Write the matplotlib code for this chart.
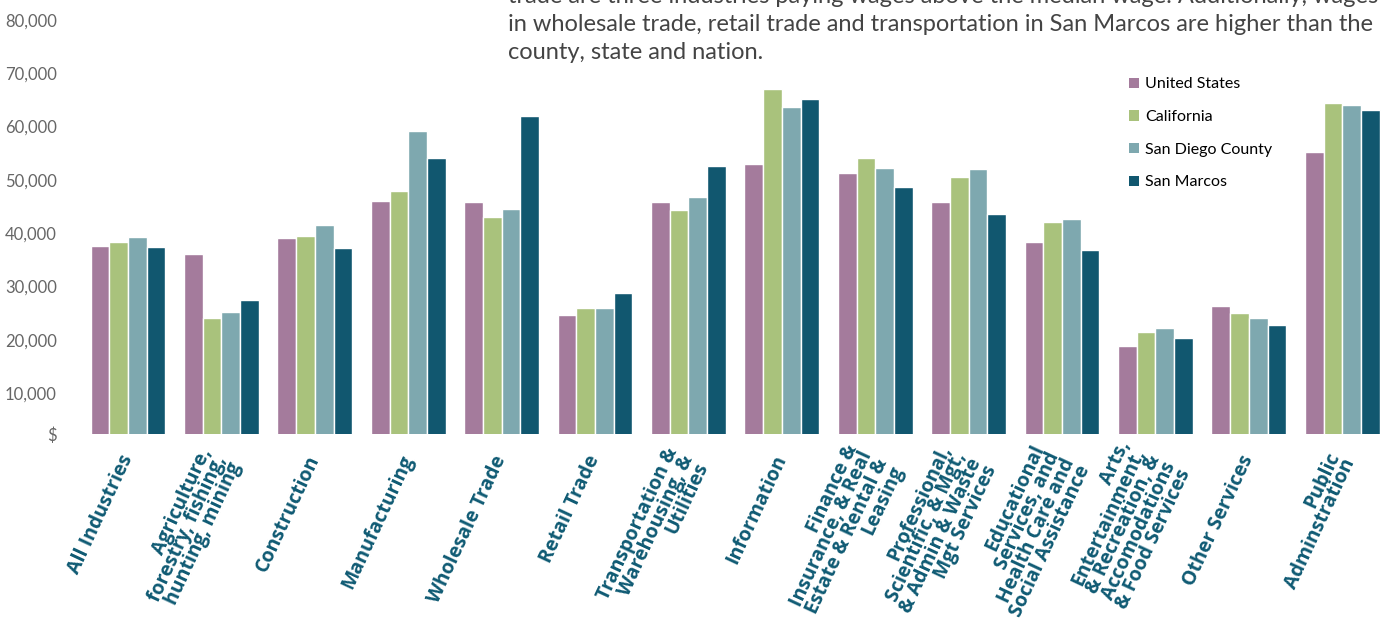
import numpy as np
import matplotlib
matplotlib.use('Agg')
from matplotlib import pyplot as plt
from matplotlib.patches import Patch

# median earnings by industry (USD)
industries = ['All Industries', 'Agriculture,\nforestry, fishing,\nhunting, mining', 'Construction',
              'Manufacturing', 'Wholesale Trade', 'Retail Trade',
              'Transportation &\nWarehousing, &\nUtilities', 'Information',
              'Finance &\nInsurance, & Real\nEstate & Rental &\nLeasing',
              'Professional,\nScientific, & Mgt,\n& Admin & Waste\nMgt Services',
              'Educational\nServices, and\nHealth Care and\nSocial Assistance',
              'Arts,\nEntertainment,\n& Recreation, &\nAccomodations\n& Food Services',
              'Other Services', 'Public\nAdminstration']
series_names = ['United States', 'California', 'San Diego County', 'San Marcos']
us = [37600, 36100, 39100, 46000, 45800, 24600, 45800, 53000, 51300, 45800, 38300, 18800, 26300, 55200]
ca = [38300, 24100, 39500, 47900, 43000, 26000, 44300, 67000, 54100, 50500, 42100, 21400, 25000, 64400]
sd = [39300, 25200, 41500, 59200, 44500, 26000, 46800, 63700, 52200, 52000, 42600, 22200, 24100, 64000]
sm = [37400, 27500, 37200, 54100, 62000, 28800, 52600, 65200, 48700, 43600, 36800, 20300, 22800, 63100]
ytick_vals = [10000, 20000, 30000, 40000, 50000, 60000, 70000, 80000]

colors = ['#a47b9c', '#a9c27c', '#7ea8af', '#11576f']
label_color = '#0f5a73'

fig = plt.figure(figsize=(13.85, 6.31), dpi=100)
W, H = 1385, 631
ax = fig.add_axes([72 / W, (H - 434) / H, (W - 72) / W, 434 / H])

x = np.arange(len(industries))
bw = 0.2
for i, (vals, name) in enumerate(zip([us, ca, sd, sm], series_names)):
    ax.bar(x + (i - 1.5) * bw, vals, width=bw, color=colors[i], edgecolor='white', linewidth=1.0,
           label=name)

ax.set_xlim(-0.6, -0.6 + (W - 72) / 93.4)
ax.set_ylim(2310, 83750)

ax.set_yticks([2310] + ytick_vals)
ax.set_yticklabels(['$'] + ['{:,}'.format(v) for v in ytick_vals],
                   fontsize=12, color='#666666', family='Lato', fontweight='normal')
ax.tick_params(axis='y', length=0, pad=11)

ax.set_xticks(x)
ax.set_xticklabels(industries, rotation=65, ha='right', va='center', rotation_mode='anchor',
                   fontsize=14, color=label_color, family='Open Sans', fontweight='bold',
                   linespacing=0.78)
ax.tick_params(axis='x', length=0, pad=16)

for s in ax.spines.values():
    s.set_visible(False)

handles = [Patch(facecolor=c, edgecolor='none') for c in colors]
ax.legend(handles, series_names, loc='upper left', bbox_to_anchor=(1115 / W, 1 - 63 / H),
          bbox_transform=fig.transFigure, frameon=False,
          handlelength=0.6, handleheight=0.6, handletextpad=0.4, labelspacing=1.17,
          prop={'family': 'Lato', 'size': 11.5})

# intro paragraph text, cut off at top and right as in the page
lines = ['trade are three industries paying wages above the median wage. Additionally, wages',
         'in wholesale trade, retail trade and transportation in San Marcos are higher than the',
         'county, state and nation.']
for k, ln in enumerate(lines):
    fig.text(508 / W, 1 - (3 + 28 * k) / H, ln, fontsize=17, family='Lato', fontweight='normal',
             color='#444444', va='baseline', ha='left')

fig.savefig('out.png', dpi=100)
